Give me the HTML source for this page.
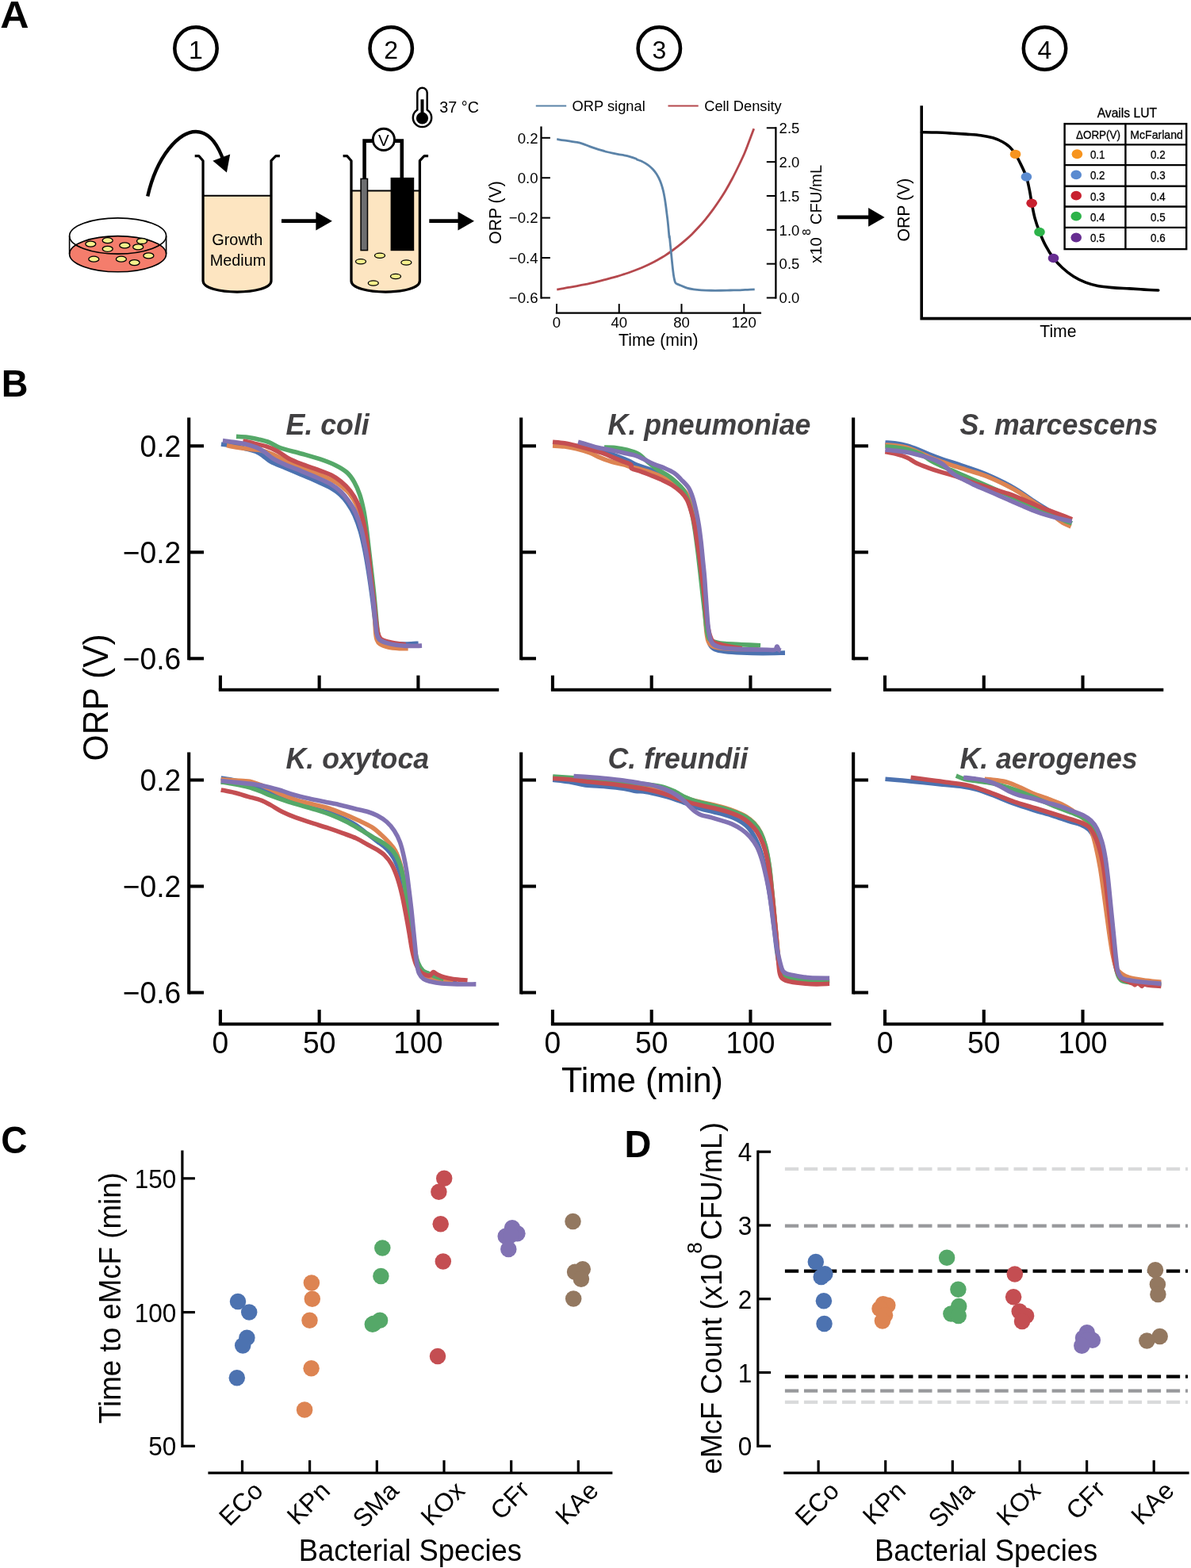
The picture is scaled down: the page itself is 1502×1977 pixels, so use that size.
<!DOCTYPE html>
<html lang="en">
<head>
<meta charset="utf-8">
<title>ORP-based electronic McFarland figure</title>
<style>
html,body{margin:0;padding:0;background:#fff;}
body{width:1502px;height:1977px;overflow:hidden;}
svg{display:block;font-family:'Liberation Sans', sans-serif;}
</style>
</head>
<body>
<svg width="1502" height="1977" viewBox="0 0 1502 1977">
<rect width="1502" height="1977" fill="#fff"/>
<g id="panel-a">
<text x="0.34" y="35.3" font-size="49" text-anchor="start" font-weight="bold" textLength="36.3" lengthAdjust="spacingAndGlyphs">A</text>
<circle cx="247" cy="61" r="26.7" fill="#fff" stroke="#000" stroke-width="4.5"/>
<text x="247" y="74.3" font-size="32" text-anchor="middle">1</text>
<circle cx="493.2" cy="61" r="26.7" fill="#fff" stroke="#000" stroke-width="4.5"/>
<text x="493.2" y="74.3" font-size="32" text-anchor="middle">2</text>
<circle cx="831.3" cy="61" r="26.7" fill="#fff" stroke="#000" stroke-width="4.5"/>
<text x="831.3" y="74.3" font-size="32" text-anchor="middle">3</text>
<circle cx="1317.5" cy="61" r="26.7" fill="#fff" stroke="#000" stroke-width="4.5"/>
<text x="1317.5" y="74.3" font-size="32" text-anchor="middle">4</text>
<ellipse cx="148.6" cy="320.2" rx="61" ry="22.6" fill="#f47d6c" stroke="#000" stroke-width="1.6"/>
<path d="M87.6 297.5V320.2M209.6 297.5V320.2" stroke="#000" stroke-width="1.6" fill="none"/>
<path d="M87.6 297.5A61 22.6 0 0 1 209.6 297.5A61 22.6 0 0 1 87.6 297.5Z" fill="none" stroke="#000" stroke-width="1.6"/>
<ellipse cx="114.3" cy="307.6" rx="6.5" ry="3.5" fill="#f6f08c" stroke="#000" stroke-width="1.3"/>
<ellipse cx="135.7" cy="303.2" rx="6.5" ry="3.5" fill="#f6f08c" stroke="#000" stroke-width="1.3"/>
<ellipse cx="179" cy="304" rx="6.5" ry="3.5" fill="#f6f08c" stroke="#000" stroke-width="1.3"/>
<ellipse cx="157.3" cy="309.4" rx="6.5" ry="3.5" fill="#f6f08c" stroke="#000" stroke-width="1.3"/>
<ellipse cx="174.2" cy="311.4" rx="6.5" ry="3.5" fill="#f6f08c" stroke="#000" stroke-width="1.3"/>
<ellipse cx="135.7" cy="313.8" rx="6.5" ry="3.5" fill="#f6f08c" stroke="#000" stroke-width="1.3"/>
<ellipse cx="118.3" cy="326.7" rx="6.5" ry="3.5" fill="#f6f08c" stroke="#000" stroke-width="1.3"/>
<ellipse cx="152.9" cy="326.7" rx="6.5" ry="3.5" fill="#f6f08c" stroke="#000" stroke-width="1.3"/>
<ellipse cx="169.6" cy="331.1" rx="6.5" ry="3.5" fill="#f6f08c" stroke="#000" stroke-width="1.3"/>
<ellipse cx="187.4" cy="322.4" rx="6.5" ry="3.5" fill="#f6f08c" stroke="#000" stroke-width="1.3"/>
<path d="M186.2 247.5C198 196 226 166 247 166C262 166 274 180 282 203" stroke="#000" stroke-width="4.4" fill="none" />
<polygon points="268.4,202.8 290.2,194.5 285.9,217.4" fill="#000"/>
<path d="M256.05 246.8H342V354C342 372.7 256.05 372.7 256.05 354Z" fill="#fde5c1" stroke="none"/>
<line x1="256.05" y1="246.8" x2="342" y2="246.8" stroke="#000" stroke-width="2" />
<path d="M245.7 196.5H250.7L256.05 202.7V354C256.05 372.7 342 372.7 342 354V202.7L347.9 196.5H352.9" stroke="#000" stroke-width="3.25" fill="none" stroke-linejoin="round"/>
<text x="299.3" y="308.6" font-size="19.9" text-anchor="middle">Growth</text>
<text x="300" y="334.7" font-size="19.9" text-anchor="middle">Medium</text>
<line x1="355" y1="278.7" x2="399.4" y2="278.7" stroke="#000" stroke-width="4.8" />
<polygon points="398.4,266.9 418.9,278.7 398.4,290.5" fill="#000"/>
<path d="M443 240.6H529.4V354C529.4 372.7 443 372.7 443 354Z" fill="#fde5c1" stroke="none"/>
<line x1="443" y1="240.6" x2="529.4" y2="240.6" stroke="#000" stroke-width="2" />
<path d="M432.6 196.5H437.6L443 202.7V354C443 372.7 529.4 372.7 529.4 354V202.7L535.1 196.5H540.1" stroke="#000" stroke-width="3.25" fill="none" stroke-linejoin="round"/>
<path d="M459.6 226V177.6H470M498 177.6H506.8V226" stroke="#000" stroke-width="4.6" fill="none" />
<circle cx="483.9" cy="175.9" r="13.6" fill="#fff" stroke="#000" stroke-width="2.9"/>
<text x="483.9" y="183.6" font-size="20.5" text-anchor="middle">V</text>
<rect x="455.1" y="225.4" width="8.4" height="90.2" fill="#6d6e70" stroke="#000" stroke-width="1.5"/>
<rect x="492.6" y="223.9" width="29.6" height="92.3" fill="#000"/>
<ellipse cx="479" cy="322.2" rx="6.5" ry="3.1" fill="#f6f08c" stroke="#000" stroke-width="1.3"/>
<ellipse cx="455" cy="329.8" rx="6.5" ry="3.1" fill="#f6f08c" stroke="#000" stroke-width="1.3"/>
<ellipse cx="512.4" cy="331" rx="6.5" ry="3.1" fill="#f6f08c" stroke="#000" stroke-width="1.3"/>
<ellipse cx="499" cy="348.5" rx="6.5" ry="3.1" fill="#f6f08c" stroke="#000" stroke-width="1.3"/>
<ellipse cx="470.8" cy="357" rx="6.5" ry="3.1" fill="#f6f08c" stroke="#000" stroke-width="1.3"/>
<path d="M526.3 116.9A6.2 6.2 0 0 1 538.7 116.9V138.5A11.7 11.7 0 1 1 526.3 138.5Z" fill="#fff" stroke="#000" stroke-width="2.5"/>
<circle cx="532.5" cy="149" r="7.6" fill="#000"/>
<rect x="530.5" y="125.3" width="4" height="20" fill="#000"/>
<text x="554.3" y="142.3" font-size="21" text-anchor="start" textLength="49.6" lengthAdjust="spacingAndGlyphs">37 °C</text>
<line x1="541.3" y1="278.7" x2="578.5" y2="278.7" stroke="#000" stroke-width="4.8" />
<polygon points="577.5,266.9 598,278.7 577.5,290.5" fill="#000"/>
</g>
<g id="panel-a3">
<path d="M682.5 160.6V375.5" stroke="#000" stroke-width="2.3" fill="none" stroke-linecap="square"/>
<line x1="682.5" y1="173.8" x2="693.9" y2="173.8" stroke="#000" stroke-width="2" />
<text x="678.5" y="180.5" font-size="18.6" text-anchor="end">0.2</text>
<line x1="682.5" y1="224.23" x2="693.9" y2="224.23" stroke="#000" stroke-width="2" />
<text x="678.5" y="230.93" font-size="18.6" text-anchor="end">0.0</text>
<line x1="682.5" y1="274.65" x2="693.9" y2="274.65" stroke="#000" stroke-width="2" />
<text x="678.5" y="281.35" font-size="18.6" text-anchor="end">−0.2</text>
<line x1="682.5" y1="325.08" x2="693.9" y2="325.08" stroke="#000" stroke-width="2" />
<text x="678.5" y="331.78" font-size="18.6" text-anchor="end">−0.4</text>
<line x1="682.5" y1="375.5" x2="693.9" y2="375.5" stroke="#000" stroke-width="2" />
<text x="678.5" y="382.2" font-size="18.6" text-anchor="end">−0.6</text>
<path d="M702.0 394.7H958.9" stroke="#000" stroke-width="2.3" fill="none" stroke-linecap="square"/>
<line x1="702" y1="394.7" x2="702" y2="383.1" stroke="#000" stroke-width="2" />
<text x="702" y="412.8" font-size="18.6" text-anchor="middle">0</text>
<line x1="780.75" y1="394.7" x2="780.75" y2="383.1" stroke="#000" stroke-width="2" />
<text x="780.75" y="412.8" font-size="18.6" text-anchor="middle">40</text>
<line x1="859.5" y1="394.7" x2="859.5" y2="383.1" stroke="#000" stroke-width="2" />
<text x="859.5" y="412.8" font-size="18.6" text-anchor="middle">80</text>
<line x1="938.25" y1="394.7" x2="938.25" y2="383.1" stroke="#000" stroke-width="2" />
<text x="938.25" y="412.8" font-size="18.6" text-anchor="middle">120</text>
<path d="M978.4 161.3V375.5" stroke="#000" stroke-width="2.3" fill="none" stroke-linecap="square"/>
<line x1="978.4" y1="375.5" x2="966.8" y2="375.5" stroke="#000" stroke-width="2" />
<text x="982.6" y="382.2" font-size="18.5" text-anchor="start">0.0</text>
<line x1="978.4" y1="332.66" x2="966.8" y2="332.66" stroke="#000" stroke-width="2" />
<text x="982.6" y="339.36" font-size="18.5" text-anchor="start">0.5</text>
<line x1="978.4" y1="289.82" x2="966.8" y2="289.82" stroke="#000" stroke-width="2" />
<text x="982.6" y="296.52" font-size="18.5" text-anchor="start">1.0</text>
<line x1="978.4" y1="246.98" x2="966.8" y2="246.98" stroke="#000" stroke-width="2" />
<text x="982.6" y="253.68" font-size="18.5" text-anchor="start">1.5</text>
<line x1="978.4" y1="204.14" x2="966.8" y2="204.14" stroke="#000" stroke-width="2" />
<text x="982.6" y="210.84" font-size="18.5" text-anchor="start">2.0</text>
<line x1="978.4" y1="161.3" x2="966.8" y2="161.3" stroke="#000" stroke-width="2" />
<text x="982.6" y="168" font-size="18.5" text-anchor="start">2.5</text>
<text x="830.3" y="436.3" font-size="21.2" text-anchor="middle">Time (min)</text>
<text x="632" y="268" font-size="21.2" text-anchor="middle" transform="rotate(-90 632 268)">ORP (V)</text>
<text transform="translate(1035.9 332) rotate(-90)" font-size="20.3">x10<tspan dy="-14.4" dx="2.6" font-size="14.8">8</tspan><tspan dy="14.4" dx="5.2">CFU/mL</tspan></text>
<line x1="675.8" y1="133.5" x2="714.2" y2="133.5" stroke="#5b83a8" stroke-width="1.8" />
<text x="721.6" y="139.7" font-size="18.3" text-anchor="start">ORP signal</text>
<line x1="842.5" y1="133.5" x2="880.7" y2="133.5" stroke="#b5484d" stroke-width="1.8" />
<text x="888.2" y="139.7" font-size="18.3" text-anchor="start">Cell Density</text>
<path d="M702.28 365.05C703.7 364.81 707.94 364.1 710.78 363.59C713.61 363.09 716.44 362.52 719.27 362.01C722.1 361.51 724.94 361.06 727.77 360.56C730.6 360.05 733.43 359.55 736.26 358.98C739.09 358.41 741.93 357.81 744.76 357.16C747.59 356.51 750.42 355.81 753.25 355.1C756.08 354.39 758.92 353.64 761.75 352.91C764.58 352.18 767.41 351.48 770.24 350.73C773.07 349.98 775.91 349.27 778.74 348.42C781.57 347.57 784.4 346.58 787.23 345.63C790.06 344.68 792.9 343.73 795.73 342.72C798.56 341.71 801.39 340.68 804.22 339.56C807.06 338.45 809.89 337.3 812.72 336.04C815.55 334.79 818.38 333.47 821.21 332.04C824.05 330.6 826.83 329.05 829.71 327.43C832.59 325.81 835.61 324.15 838.5 322.33C841.38 320.51 844.16 318.53 846.99 316.5C849.82 314.48 852.65 312.42 855.49 310.19C858.32 307.97 861.15 305.62 863.98 303.16C866.81 300.69 869.64 298.16 872.48 295.39C875.31 292.62 878.14 289.62 880.97 286.53C883.8 283.43 886.63 280.26 889.47 276.82C892.3 273.38 895.13 269.74 897.96 265.9C900.79 262.06 903.62 258.01 906.46 253.76C909.29 249.51 912.12 245.17 914.95 240.41C917.78 235.66 920.61 230.6 923.45 225.24C926.28 219.88 929.31 213.71 931.94 208.25C934.57 202.79 937 197.73 939.22 192.48C941.45 187.22 943.37 181.76 945.29 176.7C947.21 171.64 949.84 164.56 950.75 162.14" stroke="#b5484d" stroke-width="2.8" fill="none" stroke-linejoin="round"/>
<path d="M702.28 175.49C703.7 175.73 707.94 176.5 710.78 176.94C713.61 177.39 716.44 177.75 719.27 178.16C722.1 178.56 725.14 178.84 727.77 179.37C730.4 179.89 732.42 180.44 735.05 181.31C737.68 182.18 740.91 183.62 743.54 184.59C746.17 185.56 748.4 186.33 750.83 187.14C753.25 187.94 755.68 188.71 758.11 189.44C760.53 190.17 762.96 190.88 765.39 191.5C767.82 192.13 770.24 192.68 772.67 193.2C775.1 193.73 777.52 194.22 779.95 194.66C782.38 195.11 784.81 195.39 787.23 195.87C789.66 196.36 792.09 196.89 794.51 197.57C796.94 198.26 800.18 199.33 801.8 200C803.41 200.67 803.01 201.05 804.22 201.58C805.44 202.1 807.46 202.45 809.08 203.16C810.7 203.86 812.31 204.81 813.93 205.83C815.55 206.84 817.17 207.91 818.79 209.22C820.4 210.54 822.12 212.06 823.64 213.71C825.16 215.37 826.67 217.35 827.89 219.17C829.1 221 829.91 222.51 830.92 224.64C831.93 226.76 833.05 229.29 833.96 231.92C834.87 234.55 835.68 237.48 836.38 240.41C837.09 243.35 837.66 246.38 838.2 249.51C838.75 252.65 839.22 255.99 839.66 259.22C840.11 262.46 840.47 265.7 840.87 268.93C841.28 272.17 841.72 275.4 842.09 278.64C842.45 281.88 842.73 284.91 843.06 288.35C843.38 291.79 843.82 297.65 844.03 299.27C844.24 300.89 844.07 296.24 844.32 298.06C844.57 299.88 845.13 306.15 845.53 310.19C845.94 314.24 846.34 318.28 846.75 322.33C847.15 326.38 847.52 330.42 847.96 334.47C848.41 338.51 848.93 343.37 849.42 346.6C849.9 349.84 850.37 352.1 850.87 353.88C851.38 355.66 851.28 356.31 852.45 357.28C853.62 358.25 855.59 358.74 857.91 359.71C860.24 360.68 863.58 362.26 866.41 363.11C869.24 363.96 871.87 364.36 874.9 364.81C877.94 365.25 880.97 365.53 884.61 365.78C888.25 366.02 892.7 366.18 896.75 366.26C900.79 366.34 904.84 366.3 908.88 366.26C912.93 366.22 916.97 366.1 921.02 366.02C925.06 365.94 929.51 365.9 933.16 365.78C936.8 365.66 939.77 365.45 942.86 365.29C945.96 365.13 950.25 364.89 951.72 364.81" stroke="#5b83a8" stroke-width="2.8" fill="none" stroke-linejoin="round"/>
</g>
<g id="panel-a4">
<line x1="1056" y1="273.9" x2="1096.1" y2="273.9" stroke="#000" stroke-width="4.8" />
<polygon points="1095.1,262.1 1115.6,273.9 1095.1,285.7" fill="#000"/>
<path d="M1162.2 133.2V401.6H1502" stroke="#000" stroke-width="3.6" fill="none" stroke-linejoin="miter"/>
<path d="M1162.42 166.71C1165.6 166.76 1175.24 166.82 1181.49 167.02C1187.75 167.23 1193.79 167.59 1199.95 167.94C1206.1 168.3 1212.25 168.71 1218.4 169.17C1224.55 169.64 1231.22 169.94 1236.86 170.71C1242.5 171.48 1247.62 172.4 1252.24 173.79C1256.85 175.17 1260.95 177.02 1264.54 179.02C1268.13 181.02 1271.1 183.22 1273.77 185.78C1276.43 188.35 1278.23 190.76 1280.54 194.4C1282.84 198.04 1285.3 202.86 1287.61 207.62C1289.92 212.39 1292.58 217.62 1294.38 223C1296.17 228.39 1297.25 234.38 1298.38 239.92C1299.5 245.46 1300.02 250.33 1301.14 256.22C1302.27 262.12 1303.5 269.24 1305.14 275.29C1306.78 281.34 1308.78 286.88 1310.99 292.52C1313.19 298.16 1315.45 303.64 1318.37 309.13C1321.29 314.61 1324.93 320.66 1328.52 325.43C1332.11 330.2 1335.7 333.89 1339.9 337.73C1344.1 341.58 1348.87 345.42 1353.74 348.5C1358.61 351.58 1363.99 354.19 1369.12 356.19C1374.25 358.19 1378.86 359.42 1384.5 360.5C1390.14 361.57 1396.29 362.08 1402.96 362.65C1409.62 363.21 1417.82 363.47 1424.49 363.88C1431.15 364.29 1436.89 364.75 1442.94 365.11C1448.99 365.47 1457.81 365.88 1460.78 366.03" stroke="#000" stroke-width="3.6" fill="none" stroke-linecap="round"/>
<ellipse cx="1280.54" cy="194.4" rx="6.8" ry="5.7" fill="#f7941e"/>
<ellipse cx="1294.38" cy="223" rx="6.8" ry="5.7" fill="#5b8bd0"/>
<ellipse cx="1301.14" cy="256.22" rx="6.8" ry="5.7" fill="#c8202f"/>
<ellipse cx="1310.99" cy="292.52" rx="6.8" ry="5.7" fill="#2db34a"/>
<ellipse cx="1328.52" cy="325.43" rx="6.8" ry="5.7" fill="#662d91"/>
<rect x="1342.6" y="156.1" width="153.6" height="158" fill="#fff" stroke="#000" stroke-width="2.4"/>
<line x1="1342.6" y1="182.4" x2="1496.2" y2="182.4" stroke="#000" stroke-width="2.4" />
<line x1="1342.6" y1="208.1" x2="1496.2" y2="208.1" stroke="#000" stroke-width="2.4" />
<line x1="1342.6" y1="234.8" x2="1496.2" y2="234.8" stroke="#000" stroke-width="2.4" />
<line x1="1342.6" y1="260.5" x2="1496.2" y2="260.5" stroke="#000" stroke-width="2.4" />
<line x1="1342.6" y1="286.9" x2="1496.2" y2="286.9" stroke="#000" stroke-width="2.4" />
<line x1="1419.4" y1="156.1" x2="1419.4" y2="314.1" stroke="#000" stroke-width="2.4" />
<text x="1421.4" y="148.3" font-size="16.6" text-anchor="middle" textLength="75.5" lengthAdjust="spacingAndGlyphs" stroke="#000" stroke-width="0.3">Avails LUT</text>
<text x="1385" y="174.6" font-size="14.8" text-anchor="middle" textLength="56" lengthAdjust="spacingAndGlyphs" stroke="#000" stroke-width="0.3">ΔORP(V)</text>
<text x="1458.6" y="174.6" font-size="14.8" text-anchor="middle" textLength="66.5" lengthAdjust="spacingAndGlyphs" stroke="#000" stroke-width="0.3">McFarland</text>
<ellipse cx="1358.4" cy="194.25" rx="6.8" ry="5.9" fill="#f7941e"/>
<text x="1384.2" y="200.15" font-size="14.8" text-anchor="middle" textLength="18.6" lengthAdjust="spacingAndGlyphs" stroke="#000" stroke-width="0.3">0.1</text>
<text x="1460.4" y="200.15" font-size="14.8" text-anchor="middle" textLength="18.6" lengthAdjust="spacingAndGlyphs" stroke="#000" stroke-width="0.3">0.2</text>
<ellipse cx="1357.2" cy="220.45" rx="6.8" ry="5.9" fill="#5b8bd0"/>
<text x="1384.2" y="226.35" font-size="14.8" text-anchor="middle" textLength="18.6" lengthAdjust="spacingAndGlyphs" stroke="#000" stroke-width="0.3">0.2</text>
<text x="1460.4" y="226.35" font-size="14.8" text-anchor="middle" textLength="18.6" lengthAdjust="spacingAndGlyphs" stroke="#000" stroke-width="0.3">0.3</text>
<ellipse cx="1357.2" cy="246.65" rx="6.8" ry="5.9" fill="#c8202f"/>
<text x="1384.2" y="252.55" font-size="14.8" text-anchor="middle" textLength="18.6" lengthAdjust="spacingAndGlyphs" stroke="#000" stroke-width="0.3">0.3</text>
<text x="1460.4" y="252.55" font-size="14.8" text-anchor="middle" textLength="18.6" lengthAdjust="spacingAndGlyphs" stroke="#000" stroke-width="0.3">0.4</text>
<ellipse cx="1357.2" cy="272.7" rx="6.8" ry="5.9" fill="#2db34a"/>
<text x="1384.2" y="278.6" font-size="14.8" text-anchor="middle" textLength="18.6" lengthAdjust="spacingAndGlyphs" stroke="#000" stroke-width="0.3">0.4</text>
<text x="1460.4" y="278.6" font-size="14.8" text-anchor="middle" textLength="18.6" lengthAdjust="spacingAndGlyphs" stroke="#000" stroke-width="0.3">0.5</text>
<ellipse cx="1357.2" cy="299.5" rx="6.8" ry="5.9" fill="#662d91"/>
<text x="1384.2" y="305.4" font-size="14.8" text-anchor="middle" textLength="18.6" lengthAdjust="spacingAndGlyphs" stroke="#000" stroke-width="0.3">0.5</text>
<text x="1460.4" y="305.4" font-size="14.8" text-anchor="middle" textLength="18.6" lengthAdjust="spacingAndGlyphs" stroke="#000" stroke-width="0.3">0.6</text>
<text x="1147.3" y="264.6" font-size="21.2" text-anchor="middle" transform="rotate(-90 1147.3 264.6)">ORP (V)</text>
<text x="1334.4" y="425.4" font-size="21.2" text-anchor="middle">Time</text>
</g>
<g id="panel-b">
<text x="1.77" y="499.8" font-size="49" text-anchor="start" font-weight="bold" textLength="33.73" lengthAdjust="spacingAndGlyphs">B</text>
<clipPath id="cp00"><rect x="238.2" y="516.6" width="390" height="340"/></clipPath>
<g clip-path="url(#cp00)" fill="none" stroke-width="5.6" stroke-linecap="butt" stroke-linejoin="round">
<path d="M278.97 559.96C281.8 560.36 290.46 561.29 295.95 562.36C301.44 563.42 307.27 565.09 311.93 566.35C316.59 567.62 320.59 568.52 323.91 569.95C327.24 571.38 328.91 572.88 331.9 574.94C334.9 577 337.23 579.83 341.89 582.33C346.55 584.83 353.54 587.22 359.87 589.92C366.19 592.62 373.18 595.68 379.84 598.51C386.5 601.34 393.49 604.07 399.81 606.9C406.14 609.73 412.96 612.72 417.79 615.49C422.62 618.25 425.31 620.25 428.77 623.48C432.24 626.7 435.5 630.47 438.56 634.86C441.62 639.25 444.52 644.01 447.15 649.84C449.78 655.67 452.28 662.82 454.34 669.81C456.4 676.8 458 684.46 459.53 691.78C461.07 699.11 462.3 706.43 463.53 713.75C464.76 721.08 465.86 728.4 466.92 735.73C467.99 743.05 468.99 750.37 469.92 757.7C470.85 765.02 471.78 773.51 472.52 779.67C473.25 785.83 473.68 790.82 474.31 794.65C474.95 798.48 475.41 800.54 476.31 802.64C477.21 804.73 477.81 806.07 479.71 807.23C481.6 808.4 484.37 808.89 487.7 809.63C491.03 810.36 495.35 811.23 499.68 811.62C504.01 812.02 509 812.09 513.66 812.02C518.32 811.96 525.31 811.36 527.64 811.23" stroke="#4c72b0"/>
<path d="M285.97 561.56C288.3 562.02 294.95 563.52 299.95 564.35C304.94 565.19 310.93 565.95 315.93 566.55C320.92 567.15 325.25 566.88 329.91 567.95C334.57 569.01 338.23 570.55 343.89 572.94C349.55 575.34 356.54 579.17 363.86 582.33C371.19 585.49 378.51 587.99 387.83 591.92C397.15 595.85 412.46 602.24 419.79 605.9C427.11 609.56 428.28 611.16 431.77 613.89C435.27 616.62 437.76 618.45 440.76 622.28C443.75 626.11 447.12 630.93 449.75 636.86C452.38 642.78 454.61 650.34 456.54 657.83C458.47 665.32 459.87 673.81 461.33 681.8C462.8 689.79 464.13 697.78 465.33 705.77C466.52 713.75 467.59 721.74 468.52 729.73C469.45 737.72 470.22 745.38 470.92 753.7C471.62 762.02 472.25 772.34 472.72 779.67C473.18 786.99 473.28 793.15 473.72 797.64C474.15 802.14 474.41 804.23 475.31 806.63C476.21 809.03 476.71 810.46 479.11 812.02C481.5 813.59 485.6 815.09 489.69 816.02C493.79 816.95 499.51 817.35 503.68 817.62C507.84 817.88 512.83 817.62 514.66 817.62" stroke="#dd8452"/>
<path d="M297.95 550.37C300.28 550.51 307.27 550.57 311.93 551.17C316.59 551.77 321.25 552.84 325.91 553.97C330.57 555.1 335.23 556.13 339.89 557.96C344.55 559.79 347.22 562.62 353.87 564.95C360.53 567.28 371.52 569.61 379.84 571.94C388.16 574.27 396.48 576.44 403.81 578.93C411.13 581.43 418.12 584.09 423.78 586.92C429.44 589.75 433.93 592.42 437.76 595.91C441.59 599.41 444.09 603.24 446.75 607.9C449.41 612.56 451.74 617.88 453.74 623.87C455.74 629.87 457.34 636.86 458.74 643.85C460.13 650.84 461.1 658.16 462.13 665.82C463.16 673.48 463.99 681.8 464.93 689.79C465.86 697.78 466.76 705.43 467.72 713.75C468.69 722.08 469.79 731.07 470.72 739.72C471.65 748.38 472.55 757.7 473.32 765.69C474.08 773.68 474.71 782 475.31 787.66C475.91 793.32 476.18 796.48 476.91 799.64C477.64 802.8 477.91 804.9 479.71 806.63C481.5 808.36 484.37 809.06 487.7 810.03C491.03 810.99 497.68 812.02 499.68 812.42" stroke="#55a868"/>
<path d="M306.34 555.97C308.6 556.46 314.99 557.8 319.92 558.96C324.85 560.13 330.91 561.29 335.9 562.96C340.89 564.62 345.22 566.45 349.88 568.95C354.54 571.44 358.87 575.27 363.86 577.94C368.85 580.6 373.85 582.6 379.84 584.93C385.83 587.26 393.49 589.59 399.81 591.92C406.14 594.25 412.8 596.41 417.79 598.91C422.78 601.4 425.78 603.57 429.77 606.9C433.77 610.23 438.26 614.39 441.76 618.88C445.25 623.38 448.25 628.37 450.75 633.86C453.24 639.35 454.97 645.18 456.74 651.84C458.5 658.5 459.97 665.82 461.33 673.81C462.7 681.8 463.79 690.45 464.93 699.77C466.06 709.09 467.06 720.41 468.12 729.73C469.19 739.05 470.32 747.04 471.32 755.7C472.32 764.35 473.25 774.67 474.11 781.66C474.98 788.66 475.51 793.72 476.51 797.64C477.51 801.57 477.91 803.3 480.11 805.23C482.3 807.16 486.43 808.23 489.69 809.23C492.96 810.23 496.02 810.63 499.68 811.23C503.34 811.82 509.67 812.56 511.66 812.82" stroke="#c44e52"/>
<path d="M280.97 555.57C283.47 555.9 291.13 556.83 295.95 557.56C300.78 558.3 305.27 558.83 309.93 559.96C314.59 561.09 319.92 562.69 323.91 564.35C327.91 566.02 330.57 567.68 333.9 569.95C337.23 572.21 339.56 575.27 343.89 577.94C348.22 580.6 353.87 583.26 359.87 585.93C365.86 588.59 373.18 591.19 379.84 593.91C386.5 596.64 393.49 599.47 399.81 602.3C406.14 605.13 412.8 607.96 417.79 610.89C422.78 613.82 426.11 616.38 429.77 619.88C433.44 623.38 436.7 627.54 439.76 631.86C442.82 636.19 445.55 640.19 448.15 645.85C450.75 651.5 453.28 658.5 455.34 665.82C457.4 673.14 459 681.8 460.53 689.79C462.06 697.78 463.3 705.77 464.53 713.75C465.76 721.74 466.82 729.73 467.92 737.72C469.02 745.71 470.19 753.7 471.12 761.69C472.05 769.68 472.82 779.33 473.52 785.66C474.21 791.98 474.45 796.15 475.31 799.64C476.18 803.14 476.64 804.8 478.71 806.63C480.77 808.46 484.2 809.53 487.7 810.63C491.19 811.72 495.35 812.59 499.68 813.22C504.01 813.85 509.33 814.22 513.66 814.42C517.99 814.62 522.58 814.49 525.65 814.42C528.71 814.35 530.97 814.09 532.04 814.02" stroke="#8172b3"/>
</g>
<path d="M238.2 526.6V832.35" stroke="#000" stroke-width="4.1" fill="none" />
<line x1="238.2" y1="562.3" x2="257" y2="562.3" stroke="#000" stroke-width="4.1" />
<text x="228.3" y="575.9" font-size="38.69" text-anchor="end" textLength="51.71" lengthAdjust="spacingAndGlyphs">0.2</text>
<line x1="238.2" y1="696.3" x2="257" y2="696.3" stroke="#000" stroke-width="4.1" />
<text x="228.3" y="709.9" font-size="38.69" text-anchor="end" textLength="73.44" lengthAdjust="spacingAndGlyphs">−0.2</text>
<line x1="238.2" y1="830.3" x2="257" y2="830.3" stroke="#000" stroke-width="4.1" />
<text x="228.3" y="843.9" font-size="38.69" text-anchor="end" textLength="73.44" lengthAdjust="spacingAndGlyphs">−0.6</text>
<path d="M275.85 869.8H629.2" stroke="#000" stroke-width="4.1" fill="none" />
<line x1="277.9" y1="869.8" x2="277.9" y2="851.6" stroke="#000" stroke-width="4.1" />
<line x1="402.65" y1="869.8" x2="402.65" y2="851.6" stroke="#000" stroke-width="4.1" />
<line x1="527.4" y1="869.8" x2="527.4" y2="851.6" stroke="#000" stroke-width="4.1" />
<text x="360.6" y="547.6" font-size="37.13" text-anchor="start" font-weight="bold" font-style="italic" fill="#414042" textLength="105.15" lengthAdjust="spacingAndGlyphs">E. coli</text>
<clipPath id="cp01"><rect x="657.2" y="516.6" width="390.05" height="340"/></clipPath>
<g clip-path="url(#cp01)" fill="none" stroke-width="5.6" stroke-linecap="butt" stroke-linejoin="round">
<path d="M743.91 565.15C746.76 565.86 754.92 567.64 760.96 569.41C767 571.19 774.81 573.85 780.13 575.81C785.46 577.76 789.01 579.36 792.92 581.13C796.82 582.91 799.31 584.75 803.57 586.46C807.83 588.16 813.51 589.48 818.48 591.36C823.45 593.24 828.42 595.26 833.4 597.75C838.37 600.24 844.05 603.36 848.31 606.27C852.57 609.18 855.77 611.95 858.96 615.22C862.16 618.49 865.18 621.61 867.48 625.87C869.79 630.13 871.21 635.1 872.81 640.79C874.41 646.47 875.76 652.86 877.07 659.96C878.38 667.06 879.59 675.58 880.69 683.4C881.79 691.21 882.75 699.02 883.68 706.83C884.6 714.64 885.38 722.45 886.23 730.27C887.08 738.08 888.01 745.89 888.79 753.7C889.57 761.51 890.28 769.68 890.92 777.14C891.56 784.59 891.91 792.58 892.62 798.44C893.33 804.3 893.69 808.92 895.18 812.29C896.67 815.66 898.38 817.15 901.57 818.68C904.77 820.21 908.67 820.74 914.35 821.45C920.04 822.16 927.85 822.59 935.66 822.94C943.47 823.3 952.17 823.55 961.23 823.58C970.28 823.62 985.19 823.23 989.99 823.16" stroke="#4c72b0"/>
<path d="M697.04 561.96C699.53 562.13 706.99 562.38 711.96 563.02C716.93 563.66 721.54 564.48 726.87 565.79C732.2 567.11 738.94 569.06 743.91 570.91C748.89 572.75 752.08 574.99 756.7 576.87C761.31 578.75 766.64 580.71 771.61 582.2C776.58 583.69 782.62 584.75 786.52 585.82C790.43 586.88 791.5 587.59 795.05 588.59C798.6 589.58 802.86 590.36 807.83 591.78C812.8 593.2 819.9 595.34 824.87 597.11C829.84 598.89 833.75 600.66 837.66 602.44C841.56 604.21 845.11 605.92 848.31 607.76C851.5 609.61 853.99 611.21 856.83 613.52C859.67 615.82 863.04 618.13 865.35 621.61C867.66 625.09 869.08 629.42 870.68 634.39C872.28 639.37 873.63 644.69 874.94 651.44C876.25 658.18 877.39 666.71 878.56 674.87C879.73 683.04 880.98 691.92 881.97 700.44C882.96 708.96 883.68 717.48 884.53 726.01C885.38 734.53 886.3 743.4 887.08 751.57C887.87 759.74 888.58 767.55 889.21 775.01C889.85 782.46 890.21 790.63 890.92 796.31C891.63 801.99 892.06 805.97 893.48 809.09C894.9 812.22 895.96 813.64 899.44 815.06C902.92 816.48 908.32 817.05 914.35 817.62C920.39 818.18 928.56 818.33 935.66 818.47C942.76 818.61 953.41 818.47 956.96 818.47" stroke="#dd8452"/>
<path d="M762.02 564.09C764.33 564.16 771.08 563.98 775.87 564.51C780.67 565.05 785.81 565.93 790.79 567.28C795.76 568.63 801.79 570.48 805.7 572.61C809.6 574.74 810.32 576.87 814.22 580.07C818.13 583.26 824.52 588.59 829.13 591.78C833.75 594.98 838.01 596.58 841.92 599.24C845.82 601.9 849.3 604.74 852.57 607.76C855.84 610.78 858.89 613.27 861.52 617.35C864.15 621.43 866.42 626.94 868.34 632.26C870.25 637.59 871.64 642.92 873.02 649.31C874.41 655.7 875.47 662.8 876.64 670.61C877.82 678.42 878.99 687.66 880.05 696.18C881.12 704.7 882.08 713.22 883.04 721.74C883.99 730.27 884.88 739.14 885.81 747.31C886.73 755.48 887.65 762.93 888.58 770.75C889.5 778.56 890.32 788.32 891.34 794.18C892.37 800.04 892.69 803.27 894.75 805.9C896.81 808.53 900.43 808.99 903.7 809.95C906.97 810.91 909.03 811.19 914.35 811.65C919.68 812.11 928.2 812.36 935.66 812.72C943.12 813.07 955.19 813.6 959.09 813.78" stroke="#55a868"/>
<path d="M697.04 557.27C699.53 557.52 706.99 557.98 711.96 558.76C716.93 559.54 721.54 560.64 726.87 561.96C732.2 563.27 738.23 565.05 743.91 566.64C749.6 568.24 755.63 569.66 760.96 571.54C766.28 573.43 770.9 575.91 775.87 577.94C780.84 579.96 787.41 582.27 790.79 583.69C794.16 585.11 795.12 585.29 796.11 586.46C797.11 587.63 794.8 589.41 796.75 590.72C798.7 592.03 803.85 592.92 807.83 594.34C811.81 595.76 816.35 597.54 820.61 599.24C824.87 600.95 828.78 602.44 833.4 604.57C838.01 606.7 844.05 609.36 848.31 612.02C852.57 614.69 855.94 617.53 858.96 620.55C861.98 623.56 864.29 626.05 866.42 630.13C868.55 634.22 870.15 639.72 871.74 645.05C873.34 650.37 874.76 655.7 876.01 662.09C877.25 668.48 878.14 676.29 879.2 683.4C880.27 690.5 881.44 697.6 882.4 704.7C883.36 711.8 884.07 718.9 884.95 726.01C885.84 733.11 886.91 740.21 887.72 747.31C888.54 754.41 889.14 762.22 889.85 768.62C890.56 775.01 891.1 780.33 891.98 785.66C892.87 790.99 893.94 796.67 895.18 800.57C896.42 804.48 896.96 807.04 899.44 809.09C901.93 811.15 905.83 811.79 910.09 812.93C914.35 814.07 920.75 815.13 925.01 815.91C929.27 816.69 933.88 817.33 935.66 817.62" stroke="#c44e52"/>
<path d="M729 557.27C731.13 557.87 737.52 559.68 741.78 560.89C746.05 562.1 749.95 563.45 754.57 564.51C759.18 565.58 764.15 566.22 769.48 567.28C774.81 568.35 781.2 569.73 786.52 570.91C791.85 572.08 797.18 572.96 801.44 574.31C805.7 575.66 808.18 577.15 812.09 579C816 580.85 820.61 583.55 824.87 585.39C829.13 587.24 833.4 588.23 837.66 590.08C841.92 591.93 846.89 594.06 850.44 596.47C853.99 598.89 855.94 601.44 858.96 604.57C861.98 607.69 866.06 611.31 868.55 615.22C871.03 619.13 872.28 623.03 873.87 628C875.47 632.97 876.89 639.37 878.14 645.05C879.38 650.73 880.34 655.7 881.33 662.09C882.33 668.48 883.28 676.29 884.1 683.4C884.92 690.5 885.52 697.6 886.23 704.7C886.94 711.8 887.76 718.9 888.36 726.01C888.97 733.11 889.36 740.21 889.85 747.31C890.35 754.41 890.81 761.51 891.34 768.62C891.88 775.72 892.34 783.88 893.05 789.92C893.76 795.96 894.54 801.11 895.61 804.83C896.67 808.56 897.03 810.34 899.44 812.29C901.86 814.24 905.83 815.59 910.09 816.55C914.35 817.51 918.97 817.65 925.01 818.04C931.04 818.43 939.21 818.68 946.31 818.89C953.41 819.11 962.47 819.25 967.62 819.32C972.77 819.39 975.14 820.03 977.2 819.32C979.26 818.61 979.16 815.06 979.97 815.06C980.79 815.06 981.32 818.47 982.1 819.32C982.89 820.17 984.23 820.03 984.66 820.17" stroke="#8172b3"/>
</g>
<path d="M657.2 526.6V832.35" stroke="#000" stroke-width="4.1" fill="none" />
<line x1="657.2" y1="562.3" x2="676" y2="562.3" stroke="#000" stroke-width="4.1" />
<line x1="657.2" y1="696.3" x2="676" y2="696.3" stroke="#000" stroke-width="4.1" />
<line x1="657.2" y1="830.3" x2="676" y2="830.3" stroke="#000" stroke-width="4.1" />
<path d="M694.9 869.8H1048.25" stroke="#000" stroke-width="4.1" fill="none" />
<line x1="696.95" y1="869.8" x2="696.95" y2="851.6" stroke="#000" stroke-width="4.1" />
<line x1="821.7" y1="869.8" x2="821.7" y2="851.6" stroke="#000" stroke-width="4.1" />
<line x1="946.45" y1="869.8" x2="946.45" y2="851.6" stroke="#000" stroke-width="4.1" />
<text x="766.6" y="547.6" font-size="37.13" text-anchor="start" font-weight="bold" font-style="italic" fill="#414042" textLength="255.88" lengthAdjust="spacingAndGlyphs">K. pneumoniae</text>
<clipPath id="cp02"><rect x="1076.15" y="516.6" width="390.15" height="340"/></clipPath>
<g clip-path="url(#cp02)" fill="none" stroke-width="5.6" stroke-linecap="butt" stroke-linejoin="round">
<path d="M1116.38 557.96C1118.64 558.13 1125.37 558.3 1129.96 558.96C1134.55 559.63 1139.28 560.63 1143.94 561.96C1148.6 563.29 1153.26 565.12 1157.92 566.95C1162.58 568.78 1166.91 570.95 1171.9 572.94C1176.9 574.94 1182.56 577.1 1187.88 578.93C1193.21 580.77 1198.54 582.16 1203.86 583.93C1209.19 585.69 1214.51 587.69 1219.84 589.52C1225.17 591.35 1230.49 592.92 1235.82 594.91C1241.15 596.91 1246.8 599.27 1251.8 601.5C1256.79 603.74 1261.12 605.9 1265.78 608.3C1270.44 610.69 1275.43 613.36 1279.76 615.89C1284.09 618.42 1287.75 620.81 1291.74 623.48C1295.74 626.14 1299.73 629.2 1303.73 631.86C1307.72 634.53 1311.38 636.79 1315.71 639.45C1320.04 642.12 1325.37 645.28 1329.69 647.84C1334.02 650.41 1338.02 652.84 1341.68 654.83C1345.34 656.83 1350 658.99 1351.66 659.83" stroke="#4c72b0"/>
<path d="M1116.38 560.96C1118.64 561.13 1125.37 561.39 1129.96 561.96C1134.55 562.52 1138.95 562.86 1143.94 564.35C1148.93 565.85 1154.59 568.68 1159.92 570.95C1165.25 573.21 1170.57 575.84 1175.9 577.94C1181.23 580.03 1186.55 581.7 1191.88 583.53C1197.2 585.36 1202.53 587.19 1207.86 588.92C1213.18 590.65 1218.51 592.25 1223.83 593.91C1229.16 595.58 1234.49 596.98 1239.81 598.91C1245.14 600.84 1250.8 603.27 1255.79 605.5C1260.79 607.73 1265.11 609.89 1269.77 612.29C1274.43 614.69 1279.43 617.28 1283.75 619.88C1288.08 622.48 1291.74 625.21 1295.74 627.87C1299.73 630.53 1303.73 633.2 1307.72 635.86C1311.72 638.52 1315.71 641.02 1319.71 643.85C1323.7 646.68 1328.03 650.17 1331.69 652.84C1335.35 655.5 1338.52 658 1341.68 659.83C1344.84 661.66 1349.17 663.16 1350.67 663.82" stroke="#dd8452"/>
<path d="M1116.38 562.96C1118.64 563.12 1125.03 563.29 1129.96 563.95C1134.89 564.62 1140.61 565.45 1145.94 566.95C1151.26 568.45 1157.26 570.61 1161.92 572.94C1166.58 575.27 1169.91 578.6 1173.9 580.93C1177.9 583.26 1181.56 584.93 1185.89 586.92C1190.21 588.92 1194.87 590.75 1199.87 592.92C1204.86 595.08 1210.52 597.58 1215.85 599.91C1221.17 602.24 1226.5 604.57 1231.82 606.9C1237.15 609.23 1242.48 611.56 1247.8 613.89C1253.13 616.22 1258.46 618.55 1263.78 620.88C1269.11 623.21 1274.43 625.54 1279.76 627.87C1285.09 630.2 1290.41 632.53 1295.74 634.86C1301.07 637.19 1306.39 639.42 1311.72 641.85C1317.04 644.28 1322.37 646.94 1327.7 649.44C1333.02 651.94 1339.68 655.1 1343.68 656.83C1347.67 658.56 1350.33 659.33 1351.66 659.83" stroke="#55a868"/>
<path d="M1116.38 569.55C1118.64 570.01 1125.37 571.11 1129.96 572.34C1134.55 573.58 1139.61 575.01 1143.94 576.94C1148.27 578.87 1151.6 581.83 1155.93 583.93C1160.25 586.03 1164.91 587.69 1169.91 589.52C1174.9 591.35 1180.89 593.35 1185.89 594.91C1190.88 596.48 1195.54 597.58 1199.87 598.91C1204.19 600.24 1207.19 601.24 1211.85 602.9C1216.51 604.57 1222.5 607.06 1227.83 608.89C1233.16 610.73 1238.48 612.22 1243.81 613.89C1249.13 615.55 1254.46 617.22 1259.79 618.88C1265.11 620.55 1271.11 622.21 1275.77 623.87C1280.43 625.54 1283.75 627.2 1287.75 628.87C1291.74 630.53 1295.07 631.86 1299.73 633.86C1304.39 635.86 1310.39 638.69 1315.71 640.85C1321.04 643.02 1327.03 645.08 1331.69 646.84C1336.35 648.61 1340.28 650.11 1343.68 651.44C1347.07 652.77 1350.67 654.27 1352.06 654.83" stroke="#c44e52"/>
<path d="M1116.38 566.95C1118.64 567.18 1125.37 567.78 1129.96 568.35C1134.55 568.91 1139.28 569.48 1143.94 570.35C1148.6 571.21 1153.6 572.44 1157.92 573.54C1162.25 574.64 1166.25 575.81 1169.91 576.94C1173.57 578.07 1176.56 578.83 1179.89 580.33C1183.22 581.83 1186.88 583.66 1189.88 585.93C1192.88 588.19 1195.21 591.58 1197.87 593.91C1200.53 596.25 1202.86 598.08 1205.86 599.91C1208.85 601.74 1211.85 602.9 1215.85 604.9C1219.84 606.9 1225.17 609.73 1229.83 611.89C1234.49 614.05 1238.81 615.72 1243.81 617.88C1248.8 620.05 1254.46 622.54 1259.79 624.87C1265.11 627.2 1270.44 629.53 1275.77 631.86C1281.09 634.19 1286.42 636.59 1291.74 638.85C1297.07 641.12 1303.06 643.68 1307.72 645.45C1312.38 647.21 1315.05 648.04 1319.71 649.44C1324.37 650.84 1330.36 652.5 1335.69 653.83C1341.01 655.17 1349 656.83 1351.66 657.43" stroke="#8172b3"/>
</g>
<path d="M1076.15 526.6V832.35" stroke="#000" stroke-width="4.1" fill="none" />
<line x1="1076.15" y1="562.3" x2="1094.95" y2="562.3" stroke="#000" stroke-width="4.1" />
<line x1="1076.15" y1="696.3" x2="1094.95" y2="696.3" stroke="#000" stroke-width="4.1" />
<line x1="1076.15" y1="830.3" x2="1094.95" y2="830.3" stroke="#000" stroke-width="4.1" />
<path d="M1113.95 869.8H1467.3" stroke="#000" stroke-width="4.1" fill="none" />
<line x1="1116" y1="869.8" x2="1116" y2="851.6" stroke="#000" stroke-width="4.1" />
<line x1="1240.75" y1="869.8" x2="1240.75" y2="851.6" stroke="#000" stroke-width="4.1" />
<line x1="1365.5" y1="869.8" x2="1365.5" y2="851.6" stroke="#000" stroke-width="4.1" />
<text x="1210.4" y="547.6" font-size="37.13" text-anchor="start" font-weight="bold" font-style="italic" fill="#414042" textLength="250.08" lengthAdjust="spacingAndGlyphs">S. marcescens</text>
<clipPath id="cp10"><rect x="238.2" y="938.4" width="390" height="340"/></clipPath>
<g clip-path="url(#cp10)" fill="none" stroke-width="5.6" stroke-linecap="butt" stroke-linejoin="round">
<path d="M278.7 981.09C281.57 981.57 289.88 982.69 295.95 983.97C302.02 985.25 309.13 986.76 315.13 988.76C321.12 990.76 327.11 993.95 331.9 995.95C336.7 997.95 339.89 998.95 343.89 1000.75C347.88 1002.54 350.68 1004.66 355.87 1006.74C361.07 1008.81 368.66 1011.21 375.05 1013.21C381.44 1015.21 387.83 1016.88 394.22 1018.72C400.61 1020.56 407.8 1022.44 413.4 1024.23C418.99 1026.03 422.18 1027.03 427.78 1029.51C433.37 1031.98 441.36 1035.7 446.95 1039.09C452.54 1042.49 456.54 1046.28 461.33 1049.88C466.13 1053.48 471.32 1057.27 475.71 1060.67C480.11 1064.06 484.3 1066.86 487.7 1070.25C491.09 1073.65 493.69 1077.04 496.09 1081.04C498.48 1085.03 500.28 1089.63 502.08 1094.22C503.87 1098.81 505.35 1103.01 506.87 1108.6C508.39 1114.19 509.91 1120.99 511.19 1127.78C512.46 1134.57 513.34 1141.76 514.54 1149.35C515.74 1156.94 517.18 1165.73 518.38 1173.32C519.57 1180.91 520.53 1188.3 521.73 1194.89C522.93 1201.48 524.05 1208.07 525.57 1212.86C527.08 1217.66 528.76 1220.85 530.84 1223.65C532.92 1226.44 535.23 1228.04 538.03 1229.64C540.83 1231.24 543.62 1232.24 547.62 1233.24C551.61 1234.23 557.2 1234.99 562 1235.63C566.79 1236.27 573.98 1236.83 576.38 1237.07" stroke="#4c72b0"/>
<path d="M278.7 982.77C281.57 982.97 289.88 983.57 295.95 983.97C302.02 984.37 309.13 983.97 315.13 985.17C321.12 986.36 327.11 989.28 331.9 991.16C336.7 993.04 339.89 994.63 343.89 996.43C347.88 998.23 350.68 999.83 355.87 1001.94C361.07 1004.06 368.66 1007.14 375.05 1009.13C381.44 1011.13 387.83 1012.33 394.22 1013.93C400.61 1015.53 407 1016.72 413.4 1018.72C419.79 1020.72 426.18 1023.32 432.57 1025.91C438.96 1028.51 445.75 1031.5 451.74 1034.3C457.74 1037.1 463.73 1039.69 468.52 1042.69C473.32 1045.69 476.91 1049.08 480.51 1052.28C484.1 1055.47 487.1 1058.47 490.09 1061.86C493.09 1065.26 496.01 1068.06 498.48 1072.65C500.96 1077.24 503.16 1083.44 504.95 1089.43C506.75 1095.42 507.95 1101.81 509.27 1108.6C510.59 1115.39 511.74 1122.98 512.86 1130.17C513.98 1137.36 514.9 1144.55 515.98 1151.74C517.06 1158.93 518.26 1166.13 519.33 1173.32C520.41 1180.51 521.33 1188.1 522.45 1194.89C523.57 1201.68 524.65 1208.87 526.05 1214.06C527.44 1219.25 528.84 1223.05 530.84 1226.05C532.84 1229.04 535.23 1230.64 538.03 1232.04C540.83 1233.44 544.02 1233.83 547.62 1234.43C551.21 1235.03 555.61 1235.23 559.6 1235.63C563.6 1236.03 569.59 1236.63 571.58 1236.83" stroke="#dd8452"/>
<path d="M278.7 985.89C281.57 986.36 290.28 987.68 295.95 988.76C301.62 989.84 307.54 990.96 312.73 992.36C317.92 993.75 322.32 995.35 327.11 997.15C331.9 998.95 335.9 1001.03 341.49 1003.14C347.08 1005.26 354.27 1007.78 360.67 1009.85C367.06 1011.93 373.45 1013.73 379.84 1015.61C386.23 1017.48 392.62 1019.12 399.01 1021.12C405.41 1023.12 411.8 1025.07 418.19 1027.59C424.58 1030.11 431.37 1033.18 437.36 1036.22C443.36 1039.25 448.55 1042.53 454.14 1045.81C459.73 1049.08 465.73 1052.8 470.92 1055.87C476.11 1058.95 481.11 1061.26 485.3 1064.26C489.49 1067.26 493.09 1070.05 496.09 1073.85C499.08 1077.64 501.28 1082.04 503.28 1087.03C505.27 1092.02 506.67 1097.82 508.07 1103.81C509.47 1109.8 510.47 1115.79 511.66 1122.98C512.86 1130.17 514.06 1138.96 515.26 1146.95C516.46 1154.94 517.66 1162.93 518.85 1170.92C520.05 1178.91 521.05 1187.7 522.45 1194.89C523.85 1202.08 525.45 1209.27 527.24 1214.06C529.04 1218.85 531.04 1221.45 533.24 1223.65C535.43 1225.85 538.03 1226.05 540.43 1227.24C542.82 1228.44 544.42 1229.64 547.62 1230.84C550.81 1232.04 557.6 1233.83 559.6 1234.43" stroke="#55a868"/>
<path d="M278.7 995.95C281.57 996.55 290.28 998.15 295.95 999.55C301.62 1000.95 307.14 1002.74 312.73 1004.34C318.32 1005.94 324.71 1007.34 329.51 1009.13C334.3 1010.93 337.1 1012.73 341.49 1015.13C345.89 1017.52 350.68 1020.92 355.87 1023.52C361.07 1026.11 366.66 1028.43 372.65 1030.71C378.64 1032.98 385.03 1034.98 391.82 1037.18C398.62 1039.37 406.6 1041.65 413.4 1043.89C420.19 1046.13 426.58 1048.4 432.57 1050.6C438.56 1052.8 444.15 1054.67 449.35 1057.07C454.54 1059.47 459.33 1062.58 463.73 1064.98C468.12 1067.38 472.12 1069.17 475.71 1071.45C479.31 1073.73 482.3 1075.65 485.3 1078.64C488.3 1081.64 491.09 1084.83 493.69 1089.43C496.28 1094.02 498.68 1099.81 500.88 1106.21C503.08 1112.6 505.07 1120.19 506.87 1127.78C508.67 1135.37 510.15 1143.75 511.66 1151.74C513.18 1159.73 514.58 1167.72 515.98 1175.71C517.38 1183.7 518.58 1192.89 520.05 1199.68C521.53 1206.47 523.05 1212.06 524.85 1216.46C526.64 1220.85 528.64 1223.85 530.84 1226.05C533.04 1228.24 536.03 1229.04 538.03 1229.64C540.03 1230.24 541.42 1230.32 542.82 1229.64C544.22 1228.96 545.02 1225.77 546.42 1225.57C547.82 1225.37 549.01 1227.36 551.21 1228.44C553.41 1229.52 556.21 1231.04 559.6 1232.04C563 1233.04 566.59 1233.75 571.58 1234.43C576.58 1235.11 586.56 1235.83 589.56 1236.11" stroke="#c44e52"/>
<path d="M278.7 984.45C281.57 984.77 289.08 985.65 295.95 986.36C302.82 987.08 312.73 987.76 319.92 988.76C327.11 989.76 333.1 990.96 339.09 992.36C345.09 993.75 350.68 995.55 355.87 997.15C361.07 998.75 364.66 1000.35 370.25 1001.94C375.85 1003.54 383.04 1005.26 389.43 1006.74C395.82 1008.22 402.21 1009.49 408.6 1010.81C414.99 1012.13 421.38 1013.21 427.78 1014.65C434.17 1016.09 440.96 1017.96 446.95 1019.44C452.94 1020.92 458.93 1022.04 463.73 1023.52C468.52 1024.99 471.72 1026.19 475.71 1028.31C479.71 1030.43 484.1 1033.02 487.7 1036.22C491.29 1039.41 494.49 1043.21 497.28 1047.48C500.08 1051.76 502.48 1056.47 504.47 1061.86C506.47 1067.26 507.87 1073.65 509.27 1079.84C510.67 1086.03 511.74 1091.82 512.86 1099.01C513.98 1106.21 514.98 1114.99 515.98 1122.98C516.98 1130.97 517.98 1138.96 518.85 1146.95C519.73 1154.94 520.45 1162.93 521.25 1170.92C522.05 1178.91 522.93 1187.7 523.65 1194.89C524.37 1202.08 524.77 1208.67 525.57 1214.06C526.36 1219.45 526.96 1223.85 528.44 1227.24C529.92 1230.64 532.04 1232.72 534.43 1234.43C536.83 1236.15 539.03 1236.63 542.82 1237.55C546.62 1238.47 551.61 1239.39 557.2 1239.95C562.8 1240.51 569.19 1240.75 576.38 1240.91C583.57 1241.07 596.35 1240.91 600.35 1240.91" stroke="#8172b3"/>
</g>
<path d="M238.2 948.4V1253.55" stroke="#000" stroke-width="4.1" fill="none" />
<line x1="238.2" y1="983.5" x2="257" y2="983.5" stroke="#000" stroke-width="4.1" />
<text x="228.3" y="997.1" font-size="38.69" text-anchor="end" textLength="51.71" lengthAdjust="spacingAndGlyphs">0.2</text>
<line x1="238.2" y1="1117.5" x2="257" y2="1117.5" stroke="#000" stroke-width="4.1" />
<text x="228.3" y="1131.1" font-size="38.69" text-anchor="end" textLength="73.44" lengthAdjust="spacingAndGlyphs">−0.2</text>
<line x1="238.2" y1="1251.5" x2="257" y2="1251.5" stroke="#000" stroke-width="4.1" />
<text x="228.3" y="1265.1" font-size="38.69" text-anchor="end" textLength="73.44" lengthAdjust="spacingAndGlyphs">−0.6</text>
<path d="M275.85 1291.3H629.2" stroke="#000" stroke-width="4.1" fill="none" />
<line x1="277.9" y1="1291.3" x2="277.9" y2="1273.1" stroke="#000" stroke-width="4.1" />
<text x="277.9" y="1327.9" font-size="38.69" text-anchor="middle" textLength="20.69" lengthAdjust="spacingAndGlyphs">0</text>
<line x1="402.65" y1="1291.3" x2="402.65" y2="1273.1" stroke="#000" stroke-width="4.1" />
<text x="402.65" y="1327.9" font-size="38.69" text-anchor="middle" textLength="41.38" lengthAdjust="spacingAndGlyphs">50</text>
<line x1="527.4" y1="1291.3" x2="527.4" y2="1273.1" stroke="#000" stroke-width="4.1" />
<text x="527.4" y="1327.9" font-size="38.69" text-anchor="middle" textLength="62.07" lengthAdjust="spacingAndGlyphs">100</text>
<text x="360.6" y="968.9" font-size="37.13" text-anchor="start" font-weight="bold" font-style="italic" fill="#414042" textLength="180.54" lengthAdjust="spacingAndGlyphs">K. oxytoca</text>
<clipPath id="cp11"><rect x="657.2" y="938.4" width="390.05" height="340"/></clipPath>
<g clip-path="url(#cp11)" fill="none" stroke-width="5.6" stroke-linecap="butt" stroke-linejoin="round">
<path d="M697.2 983.28C700.66 983.7 711.12 984.71 717.95 985.81C724.78 986.9 730.6 988.88 738.19 989.85C745.78 990.82 755.48 990.91 763.49 991.62C771.5 992.34 779.93 993.18 786.26 994.15C792.58 995.12 797.22 996.81 801.44 997.44C805.65 998.08 807.34 997.36 811.56 997.95C815.77 998.54 821.26 999.72 826.74 1000.99C832.22 1002.25 838.54 1003.73 844.45 1005.54C850.35 1007.35 855.83 1009.55 862.16 1011.86C868.48 1014.18 876.07 1017.47 882.4 1019.45C888.72 1021.44 894.62 1022.36 900.11 1023.75C905.59 1025.15 910.23 1026.12 915.29 1027.8C920.35 1029.49 925.74 1031.26 930.47 1033.87C935.19 1036.49 939.91 1039.57 943.62 1043.49C947.33 1047.41 950.12 1052.34 952.73 1057.4C955.34 1062.46 957.24 1067.31 959.31 1073.85C961.37 1080.38 963.4 1088.61 965.13 1096.62C966.86 1104.63 968.29 1113.48 969.68 1121.92C971.07 1130.35 972.34 1138.78 973.48 1147.22C974.61 1155.65 975.5 1164.08 976.51 1172.52C977.52 1180.95 978.45 1190.23 979.55 1197.82C980.64 1205.41 981.78 1212.91 983.09 1218.06C984.4 1223.2 985.2 1226.15 987.39 1228.68C989.58 1231.21 991.82 1231.97 996.25 1233.24C1000.67 1234.5 1005.65 1235.6 1013.95 1236.27C1022.26 1236.95 1040.73 1237.11 1046.09 1237.28" stroke="#4c72b0"/>
<path d="M697.2 980.24C704.88 980.75 727.14 981.93 743.25 983.28C759.36 984.62 780.78 986.82 793.85 988.34C806.92 989.85 813.67 990.99 821.68 992.38C829.69 993.77 836.01 994.91 841.92 996.68C847.82 998.46 852.04 1001.03 857.1 1003.01C862.16 1004.99 865.95 1006.8 872.28 1008.58C878.6 1010.35 888.3 1012.03 895.05 1013.64C901.79 1015.24 907.27 1016.59 912.76 1018.19C918.24 1019.79 923.3 1021.39 927.94 1023.25C932.57 1025.1 936.71 1026.88 940.59 1029.32C944.47 1031.77 948.09 1034.51 951.21 1037.92C954.33 1041.34 956.95 1044.88 959.31 1049.81C961.67 1054.75 963.57 1060.57 965.38 1067.52C967.19 1074.48 968.84 1082.49 970.19 1091.56C971.54 1100.62 972.42 1111.8 973.48 1121.92C974.53 1132.04 975.58 1142.58 976.51 1152.28C977.44 1161.98 978.2 1171.25 979.04 1180.11C979.88 1188.96 980.73 1198.24 981.57 1205.41C982.41 1212.57 982.92 1218.81 984.1 1223.12C985.28 1227.42 986.21 1229.27 988.66 1231.21C991.1 1233.15 993.72 1233.83 998.77 1234.75C1003.83 1235.68 1011.13 1236.44 1019.01 1236.78C1026.9 1237.11 1041.57 1236.78 1046.09 1236.78" stroke="#dd8452"/>
<path d="M697.2 978.97C704.88 979.52 727.14 981 743.25 982.26C759.36 983.53 781.62 985.43 793.85 986.56C806.08 987.7 809.45 988.12 816.62 989.09C823.79 990.06 830.95 990.82 836.86 992.38C842.76 993.94 847.82 996.47 852.04 998.46C856.25 1000.44 857.94 1002.33 862.16 1004.27C866.37 1006.21 871.86 1008.36 877.34 1010.09C882.82 1011.82 889.14 1013.13 895.05 1014.65C900.95 1016.17 907.27 1017.6 912.76 1019.2C918.24 1020.8 923.3 1022.45 927.94 1024.26C932.57 1026.07 936.79 1027.76 940.59 1030.08C944.38 1032.4 947.67 1035.01 950.71 1038.18C953.74 1041.34 956.36 1044.37 958.8 1049.05C961.25 1053.74 963.48 1059.17 965.38 1066.26C967.28 1073.34 968.84 1082.28 970.19 1091.56C971.54 1100.83 972.46 1111.8 973.48 1121.92C974.49 1132.04 975.37 1142.58 976.26 1152.28C977.14 1161.98 977.99 1171.25 978.79 1180.11C979.59 1188.96 980.18 1198.24 981.07 1205.41C981.95 1212.57 982.75 1218.9 984.1 1223.12C985.45 1227.33 986.72 1228.93 989.16 1230.71C991.61 1232.48 995.49 1232.9 998.77 1233.74C1002.06 1234.58 1003.83 1235.22 1008.89 1235.77C1013.95 1236.31 1022.94 1236.9 1029.13 1237.03C1035.33 1237.16 1043.26 1236.61 1046.09 1236.52" stroke="#55a868"/>
<path d="M697.2 981.5C700.66 981.72 710.28 982.05 717.95 982.77C725.62 983.49 734.82 984.88 743.25 985.81C751.68 986.73 760.12 987.37 768.55 988.34C776.98 989.31 785.42 990.36 793.85 991.62C802.28 992.89 811.98 994.45 819.15 995.93C826.32 997.4 830.95 998.67 836.86 1000.48C842.76 1002.29 849.09 1004.91 854.57 1006.8C860.05 1008.7 864.27 1010.3 869.75 1011.86C875.23 1013.42 881.13 1014.69 887.46 1016.17C893.78 1017.64 901.79 1019.2 907.7 1020.72C913.6 1022.24 918.24 1023.59 922.88 1025.27C927.51 1026.96 931.73 1028.65 935.53 1030.84C939.32 1033.03 942.48 1035.48 945.65 1038.43C948.81 1041.38 951.76 1044.33 954.5 1048.55C957.24 1052.77 959.98 1058.25 962.09 1063.73C964.2 1069.21 965.67 1074.69 967.15 1081.44C968.63 1088.18 969.81 1096.2 970.95 1104.21C972.08 1112.22 973.05 1121.07 973.98 1129.51C974.91 1137.94 975.67 1146.37 976.51 1154.81C977.35 1163.24 978.28 1171.67 979.04 1180.11C979.8 1188.54 980.39 1197.82 981.07 1205.41C981.74 1213 982.25 1221.01 983.09 1225.65C983.93 1230.28 984.35 1231.34 986.13 1233.24C987.9 1235.13 989.92 1235.98 993.72 1237.03C997.51 1238.08 1002.99 1238.93 1008.89 1239.56C1014.8 1240.19 1022.94 1240.7 1029.13 1240.83C1035.33 1240.95 1043.26 1240.4 1046.09 1240.32" stroke="#c44e52"/>
<path d="M723.52 978.47C726.8 978.68 736.59 979.23 743.25 979.73C749.91 980.24 756.32 980.79 763.49 981.5C770.66 982.22 779.09 983.06 786.26 984.03C793.43 985 800.17 986.27 806.5 987.32C812.82 988.38 818.73 989.01 824.21 990.36C829.69 991.71 834.75 993.52 839.39 995.42C844.03 997.32 848.24 999.43 852.04 1001.74C855.83 1004.06 859.21 1006.8 862.16 1009.33C865.11 1011.86 867.22 1014.52 869.75 1016.92C872.28 1019.33 874.81 1021.94 877.34 1023.75C879.87 1025.57 881.55 1026.62 884.93 1027.8C888.3 1028.98 893.36 1029.7 897.58 1030.84C901.79 1031.98 906.01 1033.28 910.23 1034.63C914.44 1035.98 918.66 1037.04 922.88 1038.93C927.09 1040.83 931.73 1043.36 935.53 1046.02C939.32 1048.68 942.48 1051.29 945.65 1054.87C948.81 1058.46 951.97 1062.67 954.5 1067.52C957.03 1072.37 958.93 1077.85 960.83 1083.97C962.72 1090.08 964.28 1097.04 965.89 1104.21C967.49 1111.38 969.17 1119.39 970.44 1126.98C971.7 1134.57 972.46 1142.16 973.48 1149.75C974.49 1157.34 975.46 1164.93 976.51 1172.52C977.57 1180.11 978.62 1188.54 979.8 1195.29C980.98 1202.03 982.33 1208.15 983.6 1213C984.86 1217.85 985.7 1221.85 987.39 1224.38C989.08 1226.91 990.55 1227.12 993.72 1228.18C996.88 1229.23 1001.73 1229.95 1006.36 1230.71C1011 1231.46 1014.92 1232.31 1021.54 1232.73C1028.16 1233.15 1042 1233.15 1046.09 1233.24" stroke="#8172b3"/>
</g>
<path d="M657.2 948.4V1253.55" stroke="#000" stroke-width="4.1" fill="none" />
<line x1="657.2" y1="983.5" x2="676" y2="983.5" stroke="#000" stroke-width="4.1" />
<line x1="657.2" y1="1117.5" x2="676" y2="1117.5" stroke="#000" stroke-width="4.1" />
<line x1="657.2" y1="1251.5" x2="676" y2="1251.5" stroke="#000" stroke-width="4.1" />
<path d="M694.9 1291.3H1048.25" stroke="#000" stroke-width="4.1" fill="none" />
<line x1="696.95" y1="1291.3" x2="696.95" y2="1273.1" stroke="#000" stroke-width="4.1" />
<text x="696.95" y="1327.9" font-size="38.69" text-anchor="middle" textLength="20.69" lengthAdjust="spacingAndGlyphs">0</text>
<line x1="821.7" y1="1291.3" x2="821.7" y2="1273.1" stroke="#000" stroke-width="4.1" />
<text x="821.7" y="1327.9" font-size="38.69" text-anchor="middle" textLength="41.38" lengthAdjust="spacingAndGlyphs">50</text>
<line x1="946.45" y1="1291.3" x2="946.45" y2="1273.1" stroke="#000" stroke-width="4.1" />
<text x="946.45" y="1327.9" font-size="38.69" text-anchor="middle" textLength="62.07" lengthAdjust="spacingAndGlyphs">100</text>
<text x="766.6" y="968.9" font-size="37.13" text-anchor="start" font-weight="bold" font-style="italic" fill="#414042" textLength="176.51" lengthAdjust="spacingAndGlyphs">C. freundii</text>
<clipPath id="cp12"><rect x="1076.15" y="938.4" width="390.15" height="340"/></clipPath>
<g clip-path="url(#cp12)" fill="none" stroke-width="5.6" stroke-linecap="butt" stroke-linejoin="round">
<path d="M1116.44 982.26C1120.03 982.56 1130.15 983.32 1137.95 984.03C1145.75 984.75 1154.82 985.72 1163.25 986.56C1171.68 987.41 1180.12 988.25 1188.55 989.09C1196.98 989.94 1206.68 990.57 1213.85 991.62C1221.02 992.68 1225.23 993.61 1231.56 995.42C1237.88 997.23 1244.21 999.64 1251.8 1002.5C1259.39 1005.37 1268.66 1009.55 1277.1 1012.62C1285.53 1015.7 1293.96 1018.32 1302.4 1020.97C1310.83 1023.63 1320.11 1026.16 1327.7 1028.56C1335.29 1030.97 1342.03 1033.5 1347.94 1035.39C1353.84 1037.29 1358.9 1038.18 1363.12 1039.95C1367.33 1041.72 1370.45 1043.32 1373.24 1046.02C1376.02 1048.72 1377.79 1051.92 1379.81 1056.14C1381.84 1060.36 1383.65 1065.42 1385.38 1071.32C1387.11 1077.22 1388.75 1083.97 1390.19 1091.56C1391.62 1099.15 1392.84 1108.42 1393.98 1116.86C1395.12 1125.29 1396.05 1133.72 1397.02 1142.16C1397.99 1150.59 1398.87 1159.02 1399.8 1167.46C1400.73 1175.89 1401.61 1185.17 1402.58 1192.76C1403.55 1200.35 1404.48 1207.3 1405.62 1213C1406.76 1218.69 1407.85 1223.33 1409.41 1226.91C1410.97 1230.49 1412.15 1232.69 1414.98 1234.5C1417.81 1236.31 1421.94 1236.9 1426.36 1237.79C1430.79 1238.68 1435.22 1239.14 1441.54 1239.81C1447.87 1240.49 1460.52 1241.5 1464.31 1241.84" stroke="#4c72b0"/>
<path d="M1241.68 982.26C1244.21 982.52 1251.8 983.02 1256.86 983.78C1261.92 984.54 1266.98 985.26 1272.04 986.82C1277.1 988.38 1282.16 990.91 1287.22 993.14C1292.28 995.38 1296.49 997.82 1302.4 1000.23C1308.3 1002.63 1316.31 1005.16 1322.64 1007.56C1328.96 1009.97 1335.29 1012.2 1340.35 1014.65C1345.41 1017.09 1349.2 1019.79 1353 1022.24C1356.79 1024.68 1360.25 1026.96 1363.12 1029.32C1365.98 1031.68 1367.92 1033.2 1370.2 1036.4C1372.48 1039.61 1374.75 1043.15 1376.78 1048.55C1378.8 1053.95 1380.57 1061.2 1382.34 1068.79C1384.11 1076.38 1385.89 1085.23 1387.4 1094.09C1388.92 1102.94 1390.14 1112.64 1391.45 1121.92C1392.76 1131.19 1393.98 1140.47 1395.25 1149.75C1396.51 1159.02 1397.73 1168.72 1399.04 1177.58C1400.35 1186.43 1401.61 1195.71 1403.09 1202.88C1404.57 1210.04 1406 1216.45 1407.9 1220.59C1409.79 1224.72 1411.82 1225.69 1414.47 1227.67C1417.13 1229.65 1419.32 1231.13 1423.83 1232.48C1428.35 1233.83 1434.8 1234.8 1441.54 1235.77C1448.29 1236.74 1460.52 1237.87 1464.31 1238.3" stroke="#dd8452"/>
<path d="M1205.75 978.22C1207.52 978.89 1212.08 981.17 1216.38 982.26C1220.68 983.36 1226.08 983.95 1231.56 984.79C1237.04 985.64 1243.79 986.31 1249.27 987.32C1254.75 988.34 1258.97 989.31 1264.45 990.87C1269.93 992.43 1276.68 994.74 1282.16 996.68C1287.64 998.62 1291.86 1000.27 1297.34 1002.5C1302.82 1004.74 1308.72 1007.39 1315.05 1010.09C1321.37 1012.79 1328.96 1016.17 1335.29 1018.7C1341.61 1021.23 1347.94 1023.25 1353 1025.27C1358.06 1027.3 1361.85 1028.65 1365.65 1030.84C1369.44 1033.03 1372.9 1035.27 1375.77 1038.43C1378.63 1041.59 1380.66 1045.18 1382.85 1049.81C1385.04 1054.45 1387.15 1059.72 1388.92 1066.26C1390.69 1072.79 1392.08 1080.59 1393.48 1089.03C1394.87 1097.46 1396.09 1107.16 1397.27 1116.86C1398.45 1126.56 1399.51 1137.1 1400.56 1147.22C1401.61 1157.34 1402.67 1167.88 1403.6 1177.58C1404.52 1187.27 1405.28 1197.39 1406.13 1205.41C1406.97 1213.42 1407.47 1220.67 1408.66 1225.65C1409.84 1230.62 1411.1 1233.15 1413.21 1235.26C1415.32 1237.37 1417.43 1237.54 1421.3 1238.3C1425.18 1239.05 1429.32 1239.31 1436.48 1239.81C1443.65 1240.32 1459.68 1241.08 1464.31 1241.33" stroke="#55a868"/>
<path d="M1148.58 980.24C1152.29 980.75 1162.91 982.22 1170.84 983.28C1178.77 984.33 1187.71 985.38 1196.14 986.56C1204.57 987.75 1213.85 988.67 1221.44 990.36C1229.03 992.05 1234.93 994.37 1241.68 996.68C1248.42 999 1255.17 1001.74 1261.92 1004.27C1268.66 1006.8 1274.57 1009.33 1282.16 1011.86C1289.75 1014.39 1299.87 1017.13 1307.46 1019.45C1315.05 1021.77 1320.95 1023.67 1327.7 1025.78C1334.44 1027.89 1342.03 1030.21 1347.94 1032.1C1353.84 1034 1358.98 1035.48 1363.12 1037.16C1367.25 1038.85 1369.95 1039.69 1372.73 1042.22C1375.51 1044.75 1377.71 1048.34 1379.81 1052.34C1381.92 1056.35 1383.61 1060.57 1385.38 1066.26C1387.15 1071.95 1388.96 1078.91 1390.44 1086.5C1391.92 1094.09 1393.1 1103.36 1394.23 1111.8C1395.37 1120.23 1396.3 1128.66 1397.27 1137.1C1398.24 1145.53 1399.13 1153.96 1400.05 1162.4C1400.98 1170.83 1401.91 1179.68 1402.84 1187.7C1403.76 1195.71 1404.57 1204.14 1405.62 1210.47C1406.67 1216.79 1407.81 1221.85 1409.16 1225.65C1410.51 1229.44 1411.69 1231.34 1413.72 1233.24C1415.74 1235.13 1418.77 1235.85 1421.3 1237.03C1423.83 1238.21 1427.21 1239.52 1428.89 1240.32C1430.58 1241.12 1430.67 1241.92 1431.42 1241.84C1432.18 1241.75 1432.39 1239.9 1433.45 1239.81C1434.5 1239.73 1436.61 1240.74 1437.75 1241.33C1438.89 1241.92 1439.56 1243.44 1440.28 1243.36C1441 1243.27 1440.57 1240.99 1442.05 1240.83C1443.53 1240.66 1445.42 1241.92 1449.13 1242.34C1452.85 1242.77 1461.78 1243.19 1464.31 1243.36" stroke="#c44e52"/>
<path d="M1215.11 980.24C1217.85 980.58 1226.29 981.42 1231.56 982.26C1236.83 983.11 1242.1 983.95 1246.74 985.3C1251.38 986.65 1255.17 988.34 1259.39 990.36C1263.6 992.38 1267.82 995.42 1272.04 997.44C1276.25 999.47 1279.63 1000.94 1284.69 1002.5C1289.75 1004.06 1296.49 1005.24 1302.4 1006.8C1308.3 1008.36 1314.2 1010.18 1320.11 1011.86C1326.01 1013.55 1332.33 1015.11 1337.82 1016.92C1343.3 1018.74 1348.36 1020.93 1353 1022.74C1357.63 1024.56 1361.85 1025.82 1365.65 1027.8C1369.44 1029.78 1372.81 1031.81 1375.77 1034.63C1378.72 1037.46 1381.04 1040.33 1383.36 1044.75C1385.67 1049.18 1387.91 1055.08 1389.68 1061.2C1391.45 1067.31 1392.72 1073.85 1393.98 1081.44C1395.25 1089.03 1396.3 1098.3 1397.27 1106.74C1398.24 1115.17 1398.96 1123.6 1399.8 1132.04C1400.64 1140.47 1401.49 1148.9 1402.33 1157.34C1403.17 1165.77 1404.02 1174.2 1404.86 1182.64C1405.7 1191.07 1406.55 1200.77 1407.39 1207.94C1408.23 1215.1 1408.66 1221.43 1409.92 1225.65C1411.19 1229.86 1412.24 1231.46 1414.98 1233.24C1417.72 1235.01 1421.94 1235.43 1426.36 1236.27C1430.79 1237.11 1435.22 1237.62 1441.54 1238.3C1447.87 1238.97 1460.52 1239.98 1464.31 1240.32" stroke="#8172b3"/>
</g>
<path d="M1076.15 948.4V1253.55" stroke="#000" stroke-width="4.1" fill="none" />
<line x1="1076.15" y1="983.5" x2="1094.95" y2="983.5" stroke="#000" stroke-width="4.1" />
<line x1="1076.15" y1="1117.5" x2="1094.95" y2="1117.5" stroke="#000" stroke-width="4.1" />
<line x1="1076.15" y1="1251.5" x2="1094.95" y2="1251.5" stroke="#000" stroke-width="4.1" />
<path d="M1113.95 1291.3H1467.3" stroke="#000" stroke-width="4.1" fill="none" />
<line x1="1116" y1="1291.3" x2="1116" y2="1273.1" stroke="#000" stroke-width="4.1" />
<text x="1116" y="1327.9" font-size="38.69" text-anchor="middle" textLength="20.69" lengthAdjust="spacingAndGlyphs">0</text>
<line x1="1240.75" y1="1291.3" x2="1240.75" y2="1273.1" stroke="#000" stroke-width="4.1" />
<text x="1240.75" y="1327.9" font-size="38.69" text-anchor="middle" textLength="41.38" lengthAdjust="spacingAndGlyphs">50</text>
<line x1="1365.5" y1="1291.3" x2="1365.5" y2="1273.1" stroke="#000" stroke-width="4.1" />
<text x="1365.5" y="1327.9" font-size="38.69" text-anchor="middle" textLength="62.07" lengthAdjust="spacingAndGlyphs">100</text>
<text x="1210.4" y="968.9" font-size="37.13" text-anchor="start" font-weight="bold" font-style="italic" fill="#414042" textLength="224.21" lengthAdjust="spacingAndGlyphs">K. aerogenes</text>
<text x="135.7" y="879.3" font-size="44.3" text-anchor="middle" transform="rotate(-90 135.7 879.3)" textLength="160.17" lengthAdjust="spacingAndGlyphs">ORP (V)</text>
<text x="810" y="1376.7" font-size="44.72" text-anchor="middle" textLength="203.83" lengthAdjust="spacingAndGlyphs">Time (min)</text>
</g>
<g id="panel-c">
<text x="1.36" y="1454.1" font-size="49" text-anchor="start" font-weight="bold" textLength="33.18" lengthAdjust="spacingAndGlyphs">C</text>
<path d="M229.9 1450.6V1824.9" stroke="#000" stroke-width="3.2" fill="none" />
<line x1="229.9" y1="1485.8" x2="245.9" y2="1485.8" stroke="#000" stroke-width="3.2" />
<text x="222.4" y="1497.8" font-size="32.76" text-anchor="end" textLength="52.56" lengthAdjust="spacingAndGlyphs">150</text>
<line x1="229.9" y1="1654.55" x2="245.9" y2="1654.55" stroke="#000" stroke-width="3.2" />
<text x="222.4" y="1666.55" font-size="32.76" text-anchor="end" textLength="52.56" lengthAdjust="spacingAndGlyphs">100</text>
<line x1="229.9" y1="1823.3" x2="245.9" y2="1823.3" stroke="#000" stroke-width="3.2" />
<text x="222.4" y="1835.3" font-size="32.76" text-anchor="end" textLength="35.04" lengthAdjust="spacingAndGlyphs">50</text>
<path d="M262.4 1857.2H772.4" stroke="#000" stroke-width="3.2" fill="none" />
<line x1="305.5" y1="1857.2" x2="305.5" y2="1841.2" stroke="#000" stroke-width="3.2" />
<text transform="translate(303.7 1895.78) rotate(-45)" x="-31.12" y="11.01" font-size="32">ECo</text>
<line x1="390.6" y1="1857.2" x2="390.6" y2="1841.2" stroke="#000" stroke-width="3.2" />
<text transform="translate(388.8 1894.96) rotate(-45)" x="-30.24" y="11.01" font-size="32">KPn</text>
<line x1="475.3" y1="1857.2" x2="475.3" y2="1841.2" stroke="#000" stroke-width="3.2" />
<text transform="translate(473.5 1897) rotate(-45)" x="-32.91" y="11.01" font-size="32">SMa</text>
<line x1="560" y1="1857.2" x2="560" y2="1841.2" stroke="#000" stroke-width="3.2" />
<text transform="translate(558.2 1895.78) rotate(-45)" x="-31.12" y="11.01" font-size="32">KOx</text>
<line x1="644.7" y1="1857.2" x2="644.7" y2="1841.2" stroke="#000" stroke-width="3.2" />
<text transform="translate(642.9 1891.22) rotate(-45)" x="-26.66" y="11.01" font-size="32">CFr</text>
<line x1="729.3" y1="1857.2" x2="729.3" y2="1841.2" stroke="#000" stroke-width="3.2" />
<text transform="translate(727.5 1895.07) rotate(-45)" x="-30.24" y="10.85" font-size="32">KAe</text>
<text x="152.3" y="1636.6" font-size="38.17" text-anchor="middle" transform="rotate(-90 152.3 1636.6)" textLength="316.72" lengthAdjust="spacingAndGlyphs">Time to eMcF (min)</text>
<text x="517.4" y="1967.7" font-size="37.86" text-anchor="middle" textLength="281.23" lengthAdjust="spacingAndGlyphs">Bacterial Species</text>
<g fill="#4c72b0"><circle cx="300" cy="1641.1" r="10.25"/><circle cx="314.2" cy="1654.6" r="10.25"/><circle cx="311.4" cy="1686.8" r="10.25"/><circle cx="306.2" cy="1696.6" r="10.25"/><circle cx="298.8" cy="1737.3" r="10.25"/></g>
<g fill="#dd8452"><circle cx="392.9" cy="1617.5" r="10.25"/><circle cx="393.8" cy="1637.8" r="10.25"/><circle cx="390.5" cy="1664.8" r="10.25"/><circle cx="392.6" cy="1725.2" r="10.25"/><circle cx="384.1" cy="1777.6" r="10.25"/></g>
<g fill="#55a868"><circle cx="482.3" cy="1573.4" r="10.25"/><circle cx="480.4" cy="1608.9" r="10.25"/><circle cx="479.1" cy="1664.8" r="10.25"/><circle cx="469.8" cy="1669.8" r="10.25"/><circle cx="471.5" cy="1668.8" r="10.25"/></g>
<g fill="#c44e52"><circle cx="560.2" cy="1485.8" r="10.25"/><circle cx="553.4" cy="1502.8" r="10.25"/><circle cx="555.7" cy="1543.3" r="10.25"/><circle cx="558.8" cy="1590.5" r="10.25"/><circle cx="552" cy="1710" r="10.25"/></g>
<g fill="#8172b3"><circle cx="646" cy="1548.3" r="10.25"/><circle cx="652.4" cy="1555.2" r="10.25"/><circle cx="637.7" cy="1558.7" r="10.25"/><circle cx="644.6" cy="1557" r="10.25"/><circle cx="641.3" cy="1575.1" r="10.25"/></g>
<g fill="#937860"><circle cx="722.5" cy="1540" r="10.25"/><circle cx="734.8" cy="1600.2" r="10.25"/><circle cx="725.1" cy="1603.7" r="10.25"/><circle cx="732.9" cy="1612.7" r="10.25"/><circle cx="723.2" cy="1637.6" r="10.25"/></g>
</g>
<g id="panel-d">
<text x="787.5" y="1459.2" font-size="49" text-anchor="start" font-weight="bold" textLength="33.86" lengthAdjust="spacingAndGlyphs">D</text>
<line x1="989.9" y1="1473.9" x2="1498" y2="1473.9" stroke="#d9dadb" stroke-width="4.3" stroke-dasharray="17.25 6.8"/>
<line x1="989.9" y1="1545.7" x2="1498" y2="1545.7" stroke="#98999c" stroke-width="4.3" stroke-dasharray="17.25 6.8"/>
<line x1="989.9" y1="1602.6" x2="1498" y2="1602.6" stroke="#000" stroke-width="4.3" stroke-dasharray="17.25 6.8"/>
<line x1="989.9" y1="1735.7" x2="1498" y2="1735.7" stroke="#000" stroke-width="4.3" stroke-dasharray="17.25 6.8"/>
<line x1="989.9" y1="1753.6" x2="1498" y2="1753.6" stroke="#98999c" stroke-width="4.3" stroke-dasharray="17.25 6.8"/>
<line x1="989.9" y1="1767.9" x2="1498" y2="1767.9" stroke="#d9dadb" stroke-width="4.3" stroke-dasharray="17.25 6.8"/>
<g fill="#4c72b0"><circle cx="1028.8" cy="1591.1" r="10.25"/><circle cx="1040.3" cy="1606.2" r="10.25"/><circle cx="1035.7" cy="1609.9" r="10.25"/><circle cx="1038.9" cy="1640.3" r="10.25"/><circle cx="1039.5" cy="1668.9" r="10.25"/></g>
<g fill="#dd8452"><circle cx="1113.7" cy="1644.3" r="10.25"/><circle cx="1119.3" cy="1645.7" r="10.25"/><circle cx="1109.5" cy="1649.9" r="10.25"/><circle cx="1116" cy="1658.3" r="10.25"/><circle cx="1112.9" cy="1665.4" r="10.25"/></g>
<g fill="#55a868"><circle cx="1194.1" cy="1585.8" r="10.25"/><circle cx="1208.4" cy="1625.7" r="10.25"/><circle cx="1209.2" cy="1647.1" r="10.25"/><circle cx="1199.4" cy="1656.4" r="10.25"/><circle cx="1208.7" cy="1658.9" r="10.25"/></g>
<g fill="#c44e52"><circle cx="1279.8" cy="1606.4" r="10.25"/><circle cx="1278.1" cy="1635.3" r="10.25"/><circle cx="1285.7" cy="1653.6" r="10.25"/><circle cx="1294.1" cy="1658.9" r="10.25"/><circle cx="1289" cy="1665.9" r="10.25"/></g>
<g fill="#8172b3"><circle cx="1370.8" cy="1680.3" r="10.25"/><circle cx="1366" cy="1687" r="10.25"/><circle cx="1377.8" cy="1689.8" r="10.25"/><circle cx="1372.2" cy="1689.2" r="10.25"/><circle cx="1364.3" cy="1696.8" r="10.25"/></g>
<g fill="#937860"><circle cx="1457" cy="1601.3" r="10.25"/><circle cx="1459.9" cy="1619.6" r="10.25"/><circle cx="1460.4" cy="1631.9" r="10.25"/><circle cx="1462.7" cy="1685" r="10.25"/><circle cx="1446.4" cy="1690.4" r="10.25"/></g>
<path d="M955.8 1450.6V1824.9" stroke="#000" stroke-width="3.2" fill="none" />
<line x1="955.8" y1="1823.3" x2="972.1" y2="1823.3" stroke="#000" stroke-width="3.2" />
<text x="948.3" y="1835.3" font-size="32.76" text-anchor="end" textLength="17.52" lengthAdjust="spacingAndGlyphs">0</text>
<line x1="955.8" y1="1730.53" x2="972.1" y2="1730.53" stroke="#000" stroke-width="3.2" />
<text x="948.3" y="1742.53" font-size="32.76" text-anchor="end" textLength="17.52" lengthAdjust="spacingAndGlyphs">1</text>
<line x1="955.8" y1="1637.75" x2="972.1" y2="1637.75" stroke="#000" stroke-width="3.2" />
<text x="948.3" y="1649.75" font-size="32.76" text-anchor="end" textLength="17.52" lengthAdjust="spacingAndGlyphs">2</text>
<line x1="955.8" y1="1544.97" x2="972.1" y2="1544.97" stroke="#000" stroke-width="3.2" />
<text x="948.3" y="1556.97" font-size="32.76" text-anchor="end" textLength="17.52" lengthAdjust="spacingAndGlyphs">3</text>
<line x1="955.8" y1="1452.2" x2="972.1" y2="1452.2" stroke="#000" stroke-width="3.2" />
<text x="948.3" y="1464.2" font-size="32.76" text-anchor="end" textLength="17.52" lengthAdjust="spacingAndGlyphs">4</text>
<path d="M988.2 1857.2H1499.6" stroke="#000" stroke-width="3.2" fill="none" />
<line x1="1032.1" y1="1857.2" x2="1032.1" y2="1841.2" stroke="#000" stroke-width="3.2" />
<text transform="translate(1030.3 1895.78) rotate(-45)" x="-31.12" y="11.01" font-size="32">ECo</text>
<line x1="1116.7" y1="1857.2" x2="1116.7" y2="1841.2" stroke="#000" stroke-width="3.2" />
<text transform="translate(1114.9 1894.96) rotate(-45)" x="-30.24" y="11.01" font-size="32">KPn</text>
<line x1="1201.3" y1="1857.2" x2="1201.3" y2="1841.2" stroke="#000" stroke-width="3.2" />
<text transform="translate(1199.5 1897) rotate(-45)" x="-32.91" y="11.01" font-size="32">SMa</text>
<line x1="1286" y1="1857.2" x2="1286" y2="1841.2" stroke="#000" stroke-width="3.2" />
<text transform="translate(1284.2 1895.78) rotate(-45)" x="-31.12" y="11.01" font-size="32">KOx</text>
<line x1="1370.6" y1="1857.2" x2="1370.6" y2="1841.2" stroke="#000" stroke-width="3.2" />
<text transform="translate(1368.8 1891.22) rotate(-45)" x="-26.66" y="11.01" font-size="32">CFr</text>
<line x1="1455.2" y1="1857.2" x2="1455.2" y2="1841.2" stroke="#000" stroke-width="3.2" />
<text transform="translate(1453.4 1895.07) rotate(-45)" x="-30.24" y="10.85" font-size="32">KAe</text>
<text transform="translate(910.1 1858.4) rotate(-90)" font-size="36.2">eMcF Count (x10<tspan dy="-25" font-size="26.2">8</tspan><tspan dy="25" dx="2.8">CFU/mL</tspan><tspan dx="1.9">)</tspan></text>
<text x="1243.6" y="1967.7" font-size="37.86" text-anchor="middle" textLength="281.23" lengthAdjust="spacingAndGlyphs">Bacterial Species</text>
</g>
</svg>
</body>
</html>
